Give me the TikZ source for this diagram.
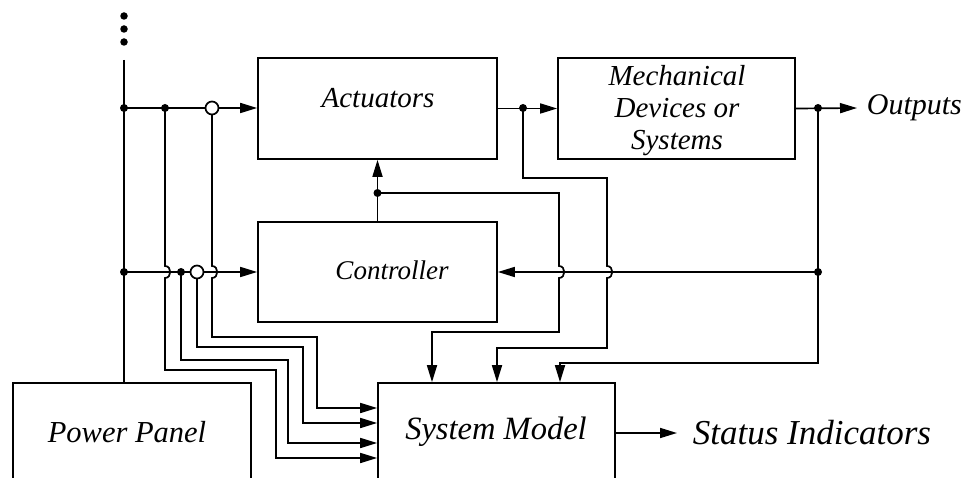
\documentclass[tikz,border=0pt]{standalone}
\usepackage{fontspec}
\setmainfont{Liberation Serif}
\usetikzlibrary{arrows.meta}
\begin{document}
\begin{tikzpicture}[x=1pt,y=-1pt,line width=1.7pt,
  box/.style={draw,rectangle,inner sep=0pt},
  lbl/.style={font=\fontsize{#1}{32}\selectfont\itshape,inner sep=0pt,align=center},
  lbl/.default=30,
  arr/.style={-{Triangle[length=17pt,width=10pt]}},
  jdot/.style={circle,fill,inner sep=0pt,minimum size=8pt},
  sdot/.style={circle,fill,inner sep=0pt,minimum size=7.5pt},
  odot/.style={circle,draw,fill=white,inner sep=0pt,minimum size=13pt}]
\useasboundingbox (0,0) rectangle (966,478);
\clip (0,0) rectangle (966,478);
% boxes
\node[box,minimum width=239pt,minimum height=101pt] (act) at (377.5,108.5) {};
\node[box,minimum width=239pt,minimum height=100pt] (ctl) at (377.5,272) {};
\node[box,minimum width=237pt,minimum height=101pt] (mech) at (676.5,108.5) {};
\node[box,minimum width=237pt,minimum height=140pt] (sm) at (496.5,453) {};
\node[box,minimum width=238pt,minimum height=140pt] (pp) at (132,453) {};
% labels
\node[lbl=29] (actT) at (378,98) {Actuators};
\node[lbl=27] (ctlT) at (392,270) {Controller};
\node[lbl=29] (mechT) at (677,111) {Mechanical\\Devices or\\Systems};
\node[lbl=32.5] (smT) at (496,432) {System Model};
\node[lbl=30.5] (ppT) at (127,432) {Power Panel};
\node[lbl=30,anchor=west] (outT) at (866,108) {Outputs};
\node[lbl=35,anchor=west] (statT) at (692,433) {Status Indicators};
% junction coordinates
\coordinate (bt) at (124,60);
\coordinate (jt) at (124,108);
\coordinate (jc) at (124,272);
\coordinate (ja) at (165,108);
\coordinate (oa) at (212,108);
\coordinate (jb) at (181,272);
\coordinate (ob) at (197,272);
\coordinate (jm) at (377.5,193);
\coordinate (jo) at (523,108);
\coordinate (jy) at (818,108);
\coordinate (jf) at (818,272);
% bus
\draw (bt) -- (bt |- pp.north);
\draw[arr] (jt) -- (act.west |- jt);
\draw[arr] (jc) -- (ctl.west |- jc);
% branches to system model
\draw[arr] (ja) -- (165,266) .. controls (172,266) and (172,278) .. (165,278)
  -- (165,370) -- (276,370) -- (276,458) -- (sm.west |- 0,458);
\draw[arr] (oa) -- (212,266) .. controls (219,266) and (219,278) .. (212,278)
  -- (212,337) -- (317,337) -- (317,408) -- (sm.west |- 0,408);
\draw[arr] (jb) -- (181,360) -- (288,360) -- (288,443) -- (sm.west |- 0,443);
\draw[arr] (ob) -- (197,347) -- (303,347) -- (303,423) -- (sm.west |- 0,423);
% controller to actuators
\draw[arr] (ctl.north) -- (act.south);
\draw[arr] (jm) -- (559,193) -- (559,266) .. controls (566,266) and (566,278) .. (559,278)
  -- (559,332) -- (432,332) -- (sm.north -| 432,0);
% actuators to mechanical
\draw[arr] (act.east) -- (mech.west);
\draw[arr] (jo) -- (523,178) -- (607,178) -- (607,266) .. controls (614,266) and (614,278) .. (607,278)
  -- (607,348) -- (497,348) -- (sm.north -| 497,0);
% outputs
\draw[arr] (mech.east) -- ([xshift=-9pt]outT.west);
\draw[arr] (jy) -- (818,363) -- (560,363) -- (sm.north -| 560,0);
\draw[arr] (jf) -- (ctl.east);
% status
\draw[arr] (sm.east |- 0,433) -- ([xshift=-15pt]statT.west);
% dots
\node[sdot] (v1) at (124,16) {};
\node[sdot] (v2) at (124,29) {};
\node[sdot] (v3) at (124,42) {};
\node[jdot] (jtD) at (jt) {};
\node[jdot] (jcD) at (jc) {};
\node[jdot] (jaD) at (ja) {};
\node[jdot] (jbD) at (jb) {};
\node[jdot] (jmD) at (jm) {};
\node[jdot] (joD) at (jo) {};
\node[jdot] (jyD) at (jy) {};
\node[jdot] (jfD) at (jf) {};
\node[odot] (oaD) at (oa) {};
\node[odot] (obD) at (ob) {};
\end{tikzpicture}
\end{document}
